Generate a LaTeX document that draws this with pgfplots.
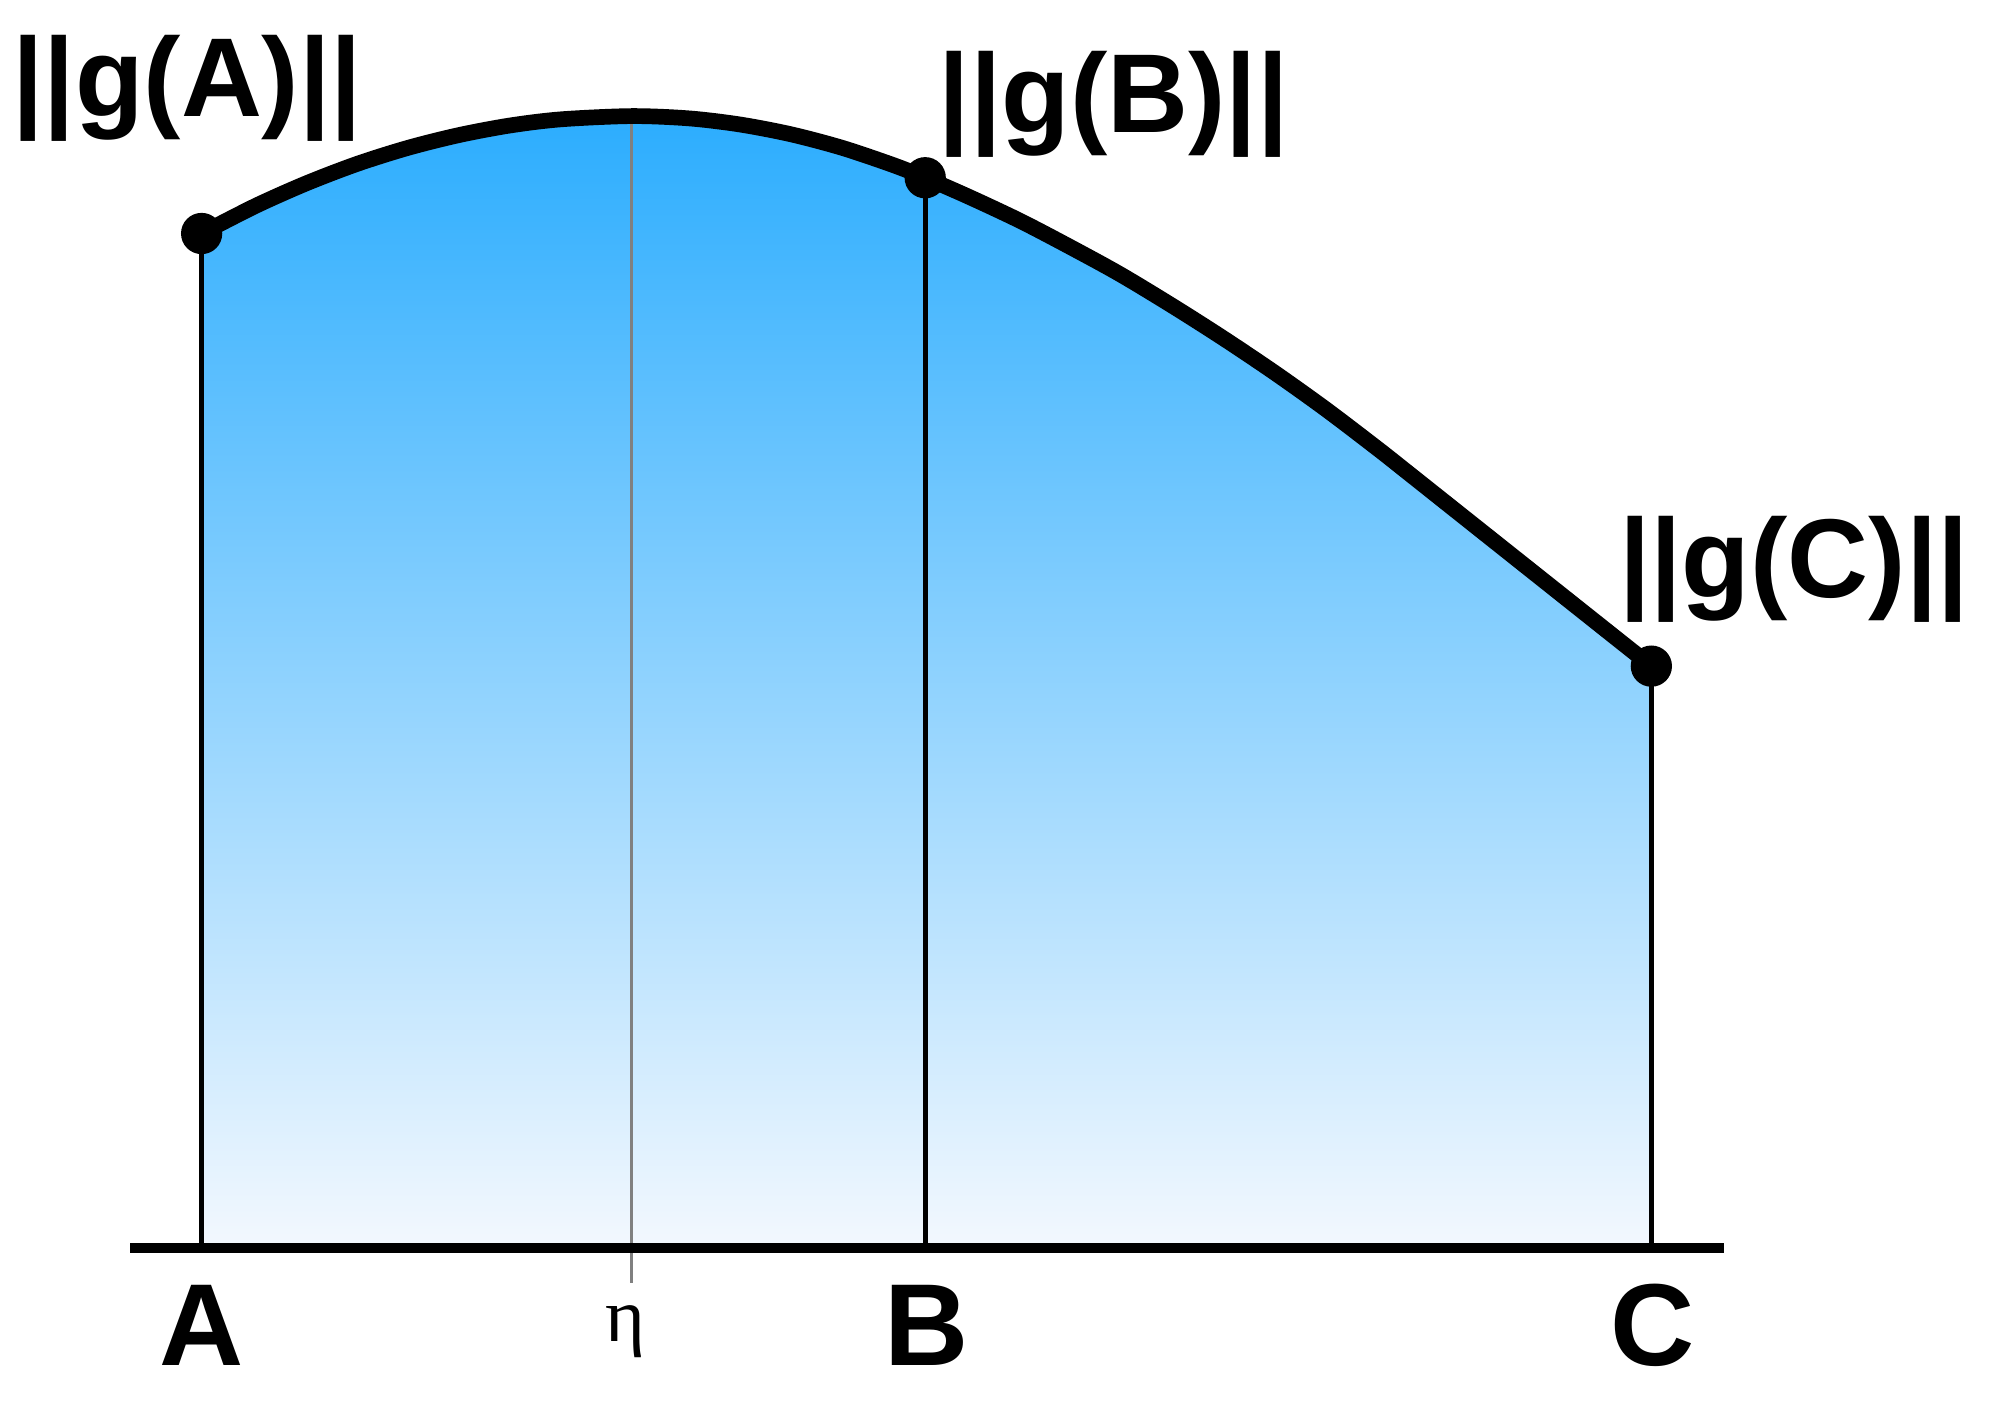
\documentclass[border=0pt]{standalone}
\usepackage{fontspec}
\setmainfont{Liberation Sans}
\newfontfamily\serifeta{Liberation Serif}
\usepackage{pgfplots}
\usepackage{pgfplotstable}
\pgfplotsset{compat=1.18}
\definecolor{fillTop}{RGB}{44,173,254}
\definecolor{fillBot}{RGB}{243,248,254}
\definecolor{etaGray}{RGB}{128,128,128}

% curve (x: position, y: height above the baseline)
\pgfplotstableread{
x     y
158   795
200   816.5
240   834.3
280   849.6
320   862.2
360   872.2
400   879.7
440   884.5
495   887
540   885.2
580   880.4
620   872.7
660   862.1
700   848.6
725   838.7
760   823.4
800   804.6
840   783.7
878   762.9
920   737.5
960   712
1000  685.1
1040  656.5
1080  626
1100  610.2
1140  578.4
1180  546.6
1220  514.8
1260  483
1294  456
}\curve

\begin{document}
\begin{tikzpicture}
\begin{axis}[
  width=15.68cm, height=11.03cm, scale only axis,
  xmin=0, xmax=1568, ymin=-125, ymax=978,
  hide axis, clip=false,
]
  % gradient area under the curve
  \addplot[draw=none, smooth, top color=fillTop, bottom color=fillBot]
    table {\curve} \closedcycle;

  % verticals
  \addplot[etaGray, line width=0.7pt] coordinates {(495,-27) (495,887)};
  \addplot[black, line width=1.1pt] coordinates {(158,0) (158,795)};
  \addplot[black, line width=1.1pt] coordinates {(725,0) (725,838.7)};
  \addplot[black, line width=1.1pt] coordinates {(1294,0) (1294,456)};

  % baseline
  \addplot[black, line width=2.2pt, line cap=butt] coordinates {(102,0) (1351,0)};

  % the curve
  \addplot[black, line width=3.5pt, smooth] table {\curve};

  % end points
  \addplot[only marks, mark=*, mark size=4.4pt, black] coordinates {
      (158,795) (725,838.7) (1294,456)
  };

  % labels
  \node[anchor=base west, inner sep=0, font=\fontsize{25}{25}\selectfont\bfseries] at (axis cs:9,887) {||g(A)||};
  \node[anchor=base west, inner sep=0, font=\fontsize{25}{25}\selectfont\bfseries] at (axis cs:735,874) {||g(B)||};
  \node[anchor=base west, inner sep=0, font=\fontsize{25}{25}\selectfont\bfseries] at (axis cs:1268,510) {||g(C)||};

  \node[anchor=base, inner sep=0, font=\fontsize{26}{26}\selectfont\bfseries] at (axis cs:158,-92) {A};
  \node[anchor=base, inner sep=0, font=\fontsize{26}{26}\selectfont\bfseries] at (axis cs:726,-92) {B};
  \node[anchor=base, inner sep=0, font=\fontsize{26}{26}\selectfont\bfseries] at (axis cs:1295,-92) {C};
  \node[anchor=base, inner sep=0, font=\fontsize{17}{17}\selectfont\serifeta] at (axis cs:490,-73) {η};

  \path (rel axis cs:0,0) rectangle (rel axis cs:1,1);
\end{axis}
\end{tikzpicture}
\end{document}
